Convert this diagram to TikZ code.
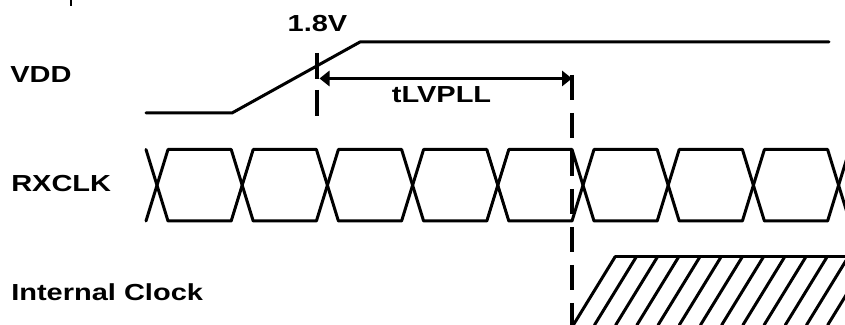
\documentclass[tikz,border=0pt]{standalone}
\usepackage{fontspec}
\setmainfont[FakeStretch=1.25]{Liberation Sans}
\usetikzlibrary{arrows.meta}

\begin{document}
\begin{tikzpicture}[
    wave/.style={line width=0.075cm, line join=round, line cap=round},
    marker/.style={line width=0.09cm},
    spanarrow/.style={line width=0.08cm, {Triangle[length=0.25cm,width=0.38cm]}-{Triangle[length=0.25cm,width=0.38cm]}}
  ]
                    \useasboundingbox (0,0) rectangle (21.125000,8.125000);
                    \clip (0,0) rectangle (21.125000,8.125000);
                    {\fontsize{16.5}{19}\selectfont\bfseries

                    % Marking stray tick
                    \draw [line width=0.03cm] (1.775000,8.125000) -- (1.775000,7.975000);%

                    % Marking signal names
                    \draw (0.250000,6.050000) node [anchor=base west, inner sep=0] (vdd) {VDD};%
                    \draw (0.275000,3.325000) node [anchor=base west, inner sep=0] (rxclk) {RXCLK};%
                    \draw (0.275000,0.600000) node [anchor=base west, inner sep=0] (intclk) {Internal Clock};%

                    % Drawing VDD ramp
                    \draw [wave] (3.650000,5.300000) -- (5.800000,5.300000) -- (9.000000,7.075000) -- (20.725000,7.075000);%

                    % Marking point 1.8V
                    \draw (7.937500,7.325000) node [anchor=base, inner sep=0] (volt) {1.8V};%
                    \draw [marker, dash pattern=on 0.65cm off 0.275cm] (7.925000,6.800000) -- (7.925000,5.225000);%

                    % Marking lock point
                    \draw [marker, dash pattern=on 0.625cm off 0.325cm] (14.300000,6.250000) -- (14.300000,0.000000);%

                    % Drawing span tLVPLL
                    \coordinate (lvstart) at (7.987500,6.162500);
                    \coordinate (lvend) at (14.300000,6.162500);
                    \draw [spanarrow] (lvstart) -- (lvend);%
                    \draw (11.037500,5.550000) node [anchor=base, inner sep=0] (tlv) {tLVPLL};%

                    % Drawing RXCLK eyes
                    \draw [wave] (3.650000,4.387500) -- (4.200000,2.600000) -- (5.780000,2.600000) -- (6.330000,4.387500)
                        -- (7.910000,4.387500) -- (8.460000,2.600000) -- (10.040000,2.600000) -- (10.590000,4.387500)
                        -- (12.170000,4.387500) -- (12.720000,2.600000) -- (14.300000,2.600000) -- (14.850000,4.387500)
                        -- (16.430000,4.387500) -- (16.980000,2.600000) -- (18.560000,2.600000) -- (19.110000,4.387500)
                        -- (20.690000,4.387500) -- (21.240000,2.600000);%
                    \draw [wave] (3.650000,2.600000) -- (4.200000,4.387500) -- (5.780000,4.387500) -- (6.330000,2.600000)
                        -- (7.910000,2.600000) -- (8.460000,4.387500) -- (10.040000,4.387500) -- (10.590000,2.600000)
                        -- (12.170000,2.600000) -- (12.720000,4.387500) -- (14.300000,4.387500) -- (14.850000,2.600000)
                        -- (16.430000,2.600000) -- (16.980000,4.387500) -- (18.560000,4.387500) -- (19.110000,2.600000)
                        -- (20.690000,2.600000) -- (21.240000,4.387500);%

                    % Drawing internal clock hatch
                    \draw [wave] (15.375000,1.700000) -- (21.125000,1.700000);%
                    \draw [wave] (15.375000,1.700000) -- (14.332500,0.000000);%
                    \draw [wave] (15.905000,1.700000) -- (14.862500,0.000000);%
                    \draw [wave] (16.435000,1.700000) -- (15.392500,0.000000);%
                    \draw [wave] (16.965000,1.700000) -- (15.922500,0.000000);%
                    \draw [wave] (17.495000,1.700000) -- (16.452500,0.000000);%
                    \draw [wave] (18.025000,1.700000) -- (16.982500,0.000000);%
                    \draw [wave] (18.555000,1.700000) -- (17.512500,0.000000);%
                    \draw [wave] (19.085000,1.700000) -- (18.042500,0.000000);%
                    \draw [wave] (19.615000,1.700000) -- (18.572500,0.000000);%
                    \draw [wave] (20.145000,1.700000) -- (19.102500,0.000000);%
                    \draw [wave] (20.675000,1.700000) -- (19.632500,0.000000);%
                    \draw [wave] (21.205000,1.700000) -- (20.162500,0.000000);%
                    \draw [wave] (21.735000,1.700000) -- (20.692500,0.000000);%
                    }
\end{tikzpicture}
\end{document}
